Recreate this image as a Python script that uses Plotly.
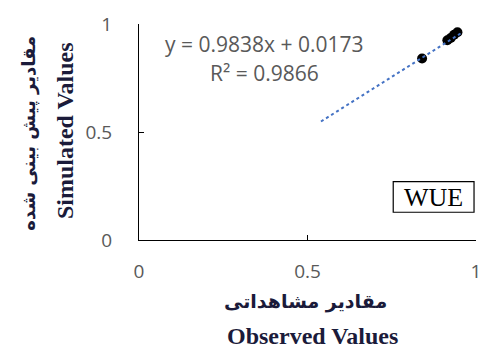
import plotly.graph_objects as go

# Observed vs simulated water use efficiency
observed = [0.84, 0.915, 0.925, 0.935, 0.945]
simulated = [0.84, 0.925, 0.935, 0.95, 0.962]

# Linear trendline coefficients
slope = 0.9838
intercept = 0.0173
r2 = 0.9866
trend_x = [0.54, 0.955]
trend_y = [slope * v + intercept for v in trend_x]

tick_vals = [0, 0.5, 1]
tick_text = ["0", "0.5", "1"]

title_color = "#1b1b3a"
tick_color = "#595959"
sans = "Open Sans, Liberation Sans, sans-serif"
serif = "Liberation Serif, Times New Roman, DejaVu Serif, serif"
arabic = "DejaVu Sans, sans-serif"

# Plot area in pixels
L, R, T, B = 139, 481, 22, 240


def px_x(p):
    return (p - L) / (R - L)


def px_y(p):
    return (B - p) / (B - T)


fig = go.Figure()
fig.add_trace(go.Scatter(
    x=observed, y=simulated, mode="markers",
    marker=dict(color="black", size=10),
    showlegend=False,
))
fig.add_trace(go.Scatter(
    x=trend_x, y=trend_y, mode="lines",
    line=dict(color="#4472C4", width=2, dash="dot"),
    showlegend=False,
))

axis_common = dict(
    range=[0, 1], tickvals=tick_vals, ticktext=tick_text,
    showgrid=False, zeroline=False, showline=True, linecolor="black", linewidth=1,
    ticks="inside", ticklen=5, tickcolor="black",
    tickfont=dict(size=19, color=tick_color, family=sans),
)

fig.update_layout(
    width=492, height=352,
    margin=dict(l=L, r=492 - R, t=T, b=352 - B),
    paper_bgcolor="white", plot_bgcolor="white",
    font=dict(family=sans, size=16, color=tick_color),
    xaxis=dict(**axis_common, ticklabelstandoff=14),
    yaxis=dict(**axis_common, ticklabelstandoff=22),
)


def label(text, x, y, size, color, family, angle=0, bold=False, **kw):
    fig.add_annotation(
        text=text, xref="paper", yref="paper", x=px_x(x), y=px_y(y),
        showarrow=False, xanchor="center", yanchor="middle", textangle=angle,
        font=dict(size=size, color=color, family=family,
                  weight="bold" if bold else "normal"),
        **kw,
    )


# Trendline equation
label(f"y = {slope}x + {intercept}", 266, 42, 21, tick_color, sans)
label(f"R² = {r2}", 266, 71, 21, tick_color, sans)

# Panel label in a framed box
fig.add_shape(type="rect", xref="paper", yref="paper",
              x0=px_x(397), x1=px_x(479), y0=px_y(212), y1=px_y(181),
              line=dict(color="black", width=1.2), fillcolor="white", layer="above")
label("WUE", 438, 197, 26, "black", serif)

# Axis titles
label("مقادیر مشاهداتی", 308, 302, 19, title_color, arabic, bold=True)
label("Observed Values", 315, 337, 24, title_color, serif, bold=True)
label("مقادیر پیش بینی شده", 27, 132, 18, title_color, arabic, angle=-90, bold=True)
label("Simulated Values", 64, 130, 24, title_color, serif, angle=-90, bold=True)

fig.write_html("out.html")
